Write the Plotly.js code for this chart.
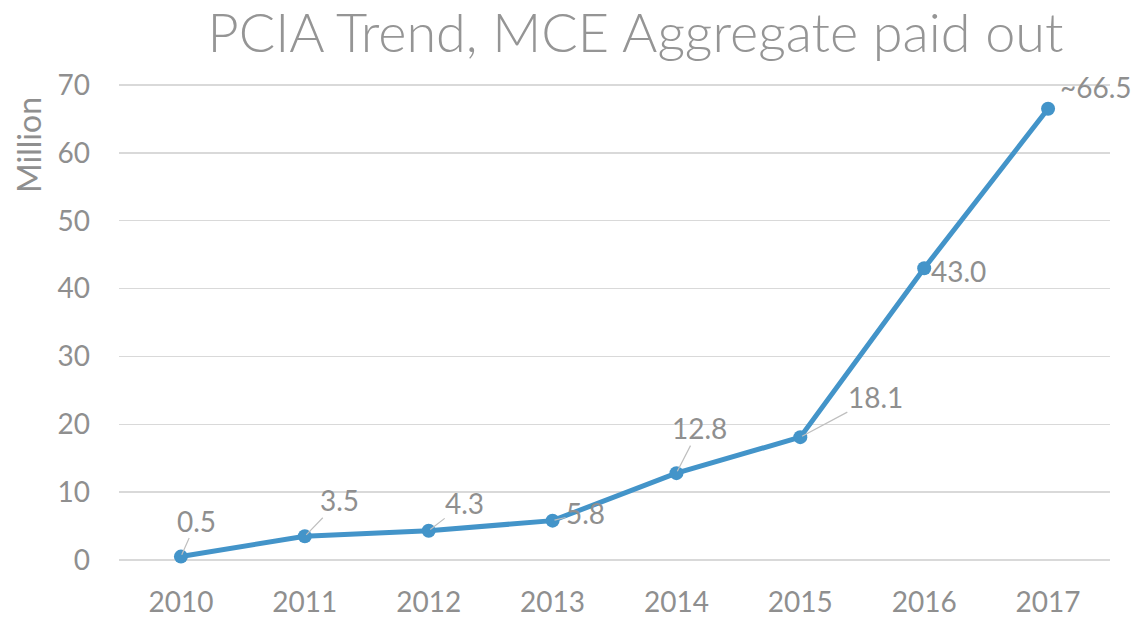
<!DOCTYPE html>
<html><head><meta charset="utf-8">
<script src="https://cdn.plot.ly/plotly-3.0.1.min.js"></script>
<style>body{margin:0;background:#fff}#c{width:1145px;height:617px}</style>
</head><body><div id="c"></div>
<script>
const years = ['2010','2011','2012','2013','2014','2015','2016','2017'];
const values = [0.5, 3.5, 4.3, 5.8, 12.8, 18.1, 43.0, 66.5];
const labels = ['0.5','3.5','4.3','5.8','12.8','18.1','43.0','~66.5'];
const labelOffsets = [[16,-36],[35,-36],[36,-28],[33,-8],[23,-45],[75,-40],[34,3],[48,-22]];
const showLeader = [true,true,true,true,true,true,false,false];

const FONT = 'Lato, "Open Sans", sans-serif';
const GRAY = '#8f8f8f';

const annotations = values.map((v,i)=>({
  x: i, y: v, xref:'x', yref:'y', text: labels[i],
  showarrow: true, ax: labelOffsets[i][0], ay: labelOffsets[i][1],
  arrowhead: 0, arrowwidth: 1.2, standoff: 2, borderpad: 0,
  arrowcolor: showLeader[i] ? '#bfbfbf' : 'rgba(0,0,0,0)',
  font: {family: FONT, size: 28, color: GRAY}
}));
annotations.push({
  text: 'Million', xref:'paper', yref:'paper', x: -0.092, y: 0.872,
  xanchor:'center', yanchor:'middle',
  showarrow:false, textangle:-90, font:{family:FONT,size:32,color:GRAY}
});

Plotly.newPlot('c', [{
  x: years, y: values, type:'scatter', mode:'lines+markers',
  line:{color:'#4394c9', width:5},
  marker:{color:'#4394c9', size:14},
  cliponaxis:false, hoverinfo:'skip'
}], {
  width:1145, height:617,
  margin:{l:119, r:35, t:84, b:56},
  paper_bgcolor:'#fff', plot_bgcolor:'#fff',
  showlegend:false,
  title:{text:'PCIA Trend, MCE Aggregate paid out', x:0.555, xanchor:'center', y:0.946, yanchor:'middle',
    font:{family:FONT, size:54, color:'#959595', weight:300}},
  xaxis:{type:'category', range:[-0.5,7.5], showgrid:false, zeroline:false, showline:false,
    ticks:'', tickfont:{family:FONT,size:28,color:GRAY}, ticklabelstandoff:22},
  yaxis:{range:[-0.15,70.15], tickvals:[0,10,20,30,40,50,60,70], showgrid:true, gridcolor:'#d9d9d9', gridwidth:1.5,
    zeroline:false, showline:false, ticks:'', tickfont:{family:FONT,size:28,color:GRAY}, ticklabelstandoff:28},
  annotations: annotations
}, {staticPlot:true});
</script></body></html>
